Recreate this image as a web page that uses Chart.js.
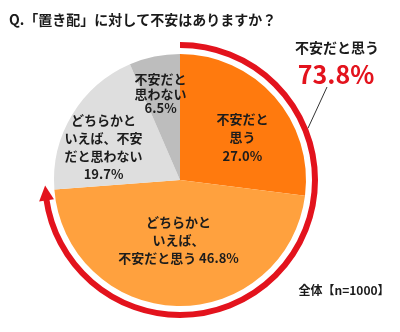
<!DOCTYPE html>
<html lang="ja">
<head>
<meta charset="utf-8">
<script src="https://cdn.jsdelivr.net/npm/chart.js@4.4.0/dist/chart.umd.min.js"></script>
<style>
  html, body { margin: 0; padding: 0; background: #fff; }
  canvas { display: block; }
</style>
</head>
<body>
<canvas id="graficoOkihai" width="400" height="332"></canvas>
<script>
  // Dados da pesquisa
  const titulo = 'Q.「置き配」に対して不安はありますか？';
  const categorias = [
    ['不安だと', '思う'],
    ['どちらかと', 'いえば、', '不安だと思う'],
    ['どちらかと', 'いえば、不安', 'だと思わない'],
    ['不安だと', '思わない']
  ];
  const valores = [27.0, 46.8, 19.7, 6.5];
  const grupoTotal = '不安だと思う';   // soma das duas primeiras fatias
  const amostra = '全体【n=1000】';

  const cores = ['#ff7a0e', '#ffa13e', '#dedede', '#bdbdbd'];
  const vermelho = '#e3131d';
  const fonte = '"Noto Sans CJK JP", "Noto Sans", sans-serif';

  // posição dos rótulos: fração do raio, ajuste de ângulo (graus), altura da linha
  const posRotulo = [
    { r: 0.60, a: 7, lh: 18.5 },
    { r: 0.48, a: 0, lh: 18 },
    { r: 0.66, a: -8, lh: 18 },
    { r: 0.70, a: -1, lh: 14.5 }
  ];

  const somaGrupo = valores[0] + valores[1];

  const desenhos = {
    id: 'desenhos',
    afterDatasetsDraw(chart) {
      const ctx = chart.ctx;
      const arcos = chart.getDatasetMeta(0).data;
      const cx = arcos[0].x, cy = arcos[0].y, raio = arcos[0].outerRadius;

      ctx.save();

      // Arco vermelho com seta em volta das fatias "不安"
      const rAnel = raio + 9;
      const ini = arcos[0].startAngle;
      const fimGrupo = arcos[1].endAngle;
      const ponta = fimGrupo + 2 * Math.PI / 180;
      const base = ponta - 15 / rAnel;
      ctx.strokeStyle = vermelho;
      ctx.lineWidth = 6;
      ctx.lineCap = 'butt';
      ctx.beginPath();
      ctx.arc(cx, cy, rAnel, ini, base + 0.01);
      ctx.stroke();

      const px = cx + rAnel * Math.cos(ponta), py = cy + rAnel * Math.sin(ponta);
      const bx = cx + Math.cos(base), by = cy + Math.sin(base);
      ctx.fillStyle = vermelho;
      ctx.beginPath();
      ctx.moveTo(px, py);
      ctx.lineTo(cx + (rAnel + 7.5) * Math.cos(base), cy + (rAnel + 7.5) * Math.sin(base));
      ctx.lineTo(cx + (rAnel - 7.5) * Math.cos(base), cy + (rAnel - 7.5) * Math.sin(base));
      ctx.closePath();
      ctx.fill();

      // Rótulos dentro das fatias
      ctx.fillStyle = '#1c1c1c';
      ctx.font = 'bold 13px ' + fonte;
      ctx.textAlign = 'center';
      ctx.textBaseline = 'middle';
      arcos.forEach((arco, i) => {
        const p = posRotulo[i];
        const meio = (arco.startAngle + arco.endAngle) / 2 + p.a * Math.PI / 180;
        const x = cx + Math.cos(meio) * raio * p.r;
        const y = cy + Math.sin(meio) * raio * p.r;
        const pct = valores[i].toFixed(1) + '%';
        const linhas = categorias[i].slice();
        if (i === 1) linhas[linhas.length - 1] += ' ' + pct;
        else linhas.push(pct);
        const y0 = y - (linhas.length - 1) * p.lh / 2;
        linhas.forEach((t, k) => ctx.fillText(t, x, y0 + k * p.lh));
      });

      // Título
      ctx.textAlign = 'left';
      ctx.font = 'bold 14px ' + fonte;
      ctx.fillStyle = '#1a1a1a';
      ctx.fillText(titulo, 9, 20);

      // Total do grupo à direita
      ctx.textAlign = 'center';
      ctx.font = 'bold 14px ' + fonte;
      ctx.fillText(grupoTotal, 337, 48);
      ctx.fillStyle = vermelho;
      ctx.font = 'bold 25px ' + fonte;
      ctx.fillText(somaGrupo.toFixed(1) + '%', 336, 74);

      // Linha de chamada até o arco
      const angLinha = -22 * Math.PI / 180;
      ctx.strokeStyle = '#333';
      ctx.lineWidth = 1;
      ctx.beginPath();
      ctx.moveTo(327, 87);
      ctx.lineTo(cx + (rAnel + 3) * Math.cos(angLinha), cy + (rAnel + 3) * Math.sin(angLinha));
      ctx.stroke();

      // Amostra
      ctx.fillStyle = '#1a1a1a';
      ctx.font = 'bold 12px ' + fonte;
      ctx.fillText(amostra, 344, 290);

      ctx.restore();
    }
  };

  const ctx = document.getElementById('graficoOkihai').getContext('2d');
  new Chart(ctx, {
    type: 'pie',
    data: {
      labels: categorias.map(c => c.join('')),
      datasets: [{
        data: valores,
        backgroundColor: cores,
        borderWidth: 0,
        hoverBorderWidth: 0,
        hoverOffset: 0
      }]
    },
    options: {
      responsive: false,
      animation: false,
      layout: { padding: { top: 54, left: 54, right: 94, bottom: 26 } },
      plugins: {
        legend: { display: false },
        tooltip: { enabled: false }
      }
    },
    plugins: [desenhos]
  });
</script>
</body>
</html>
